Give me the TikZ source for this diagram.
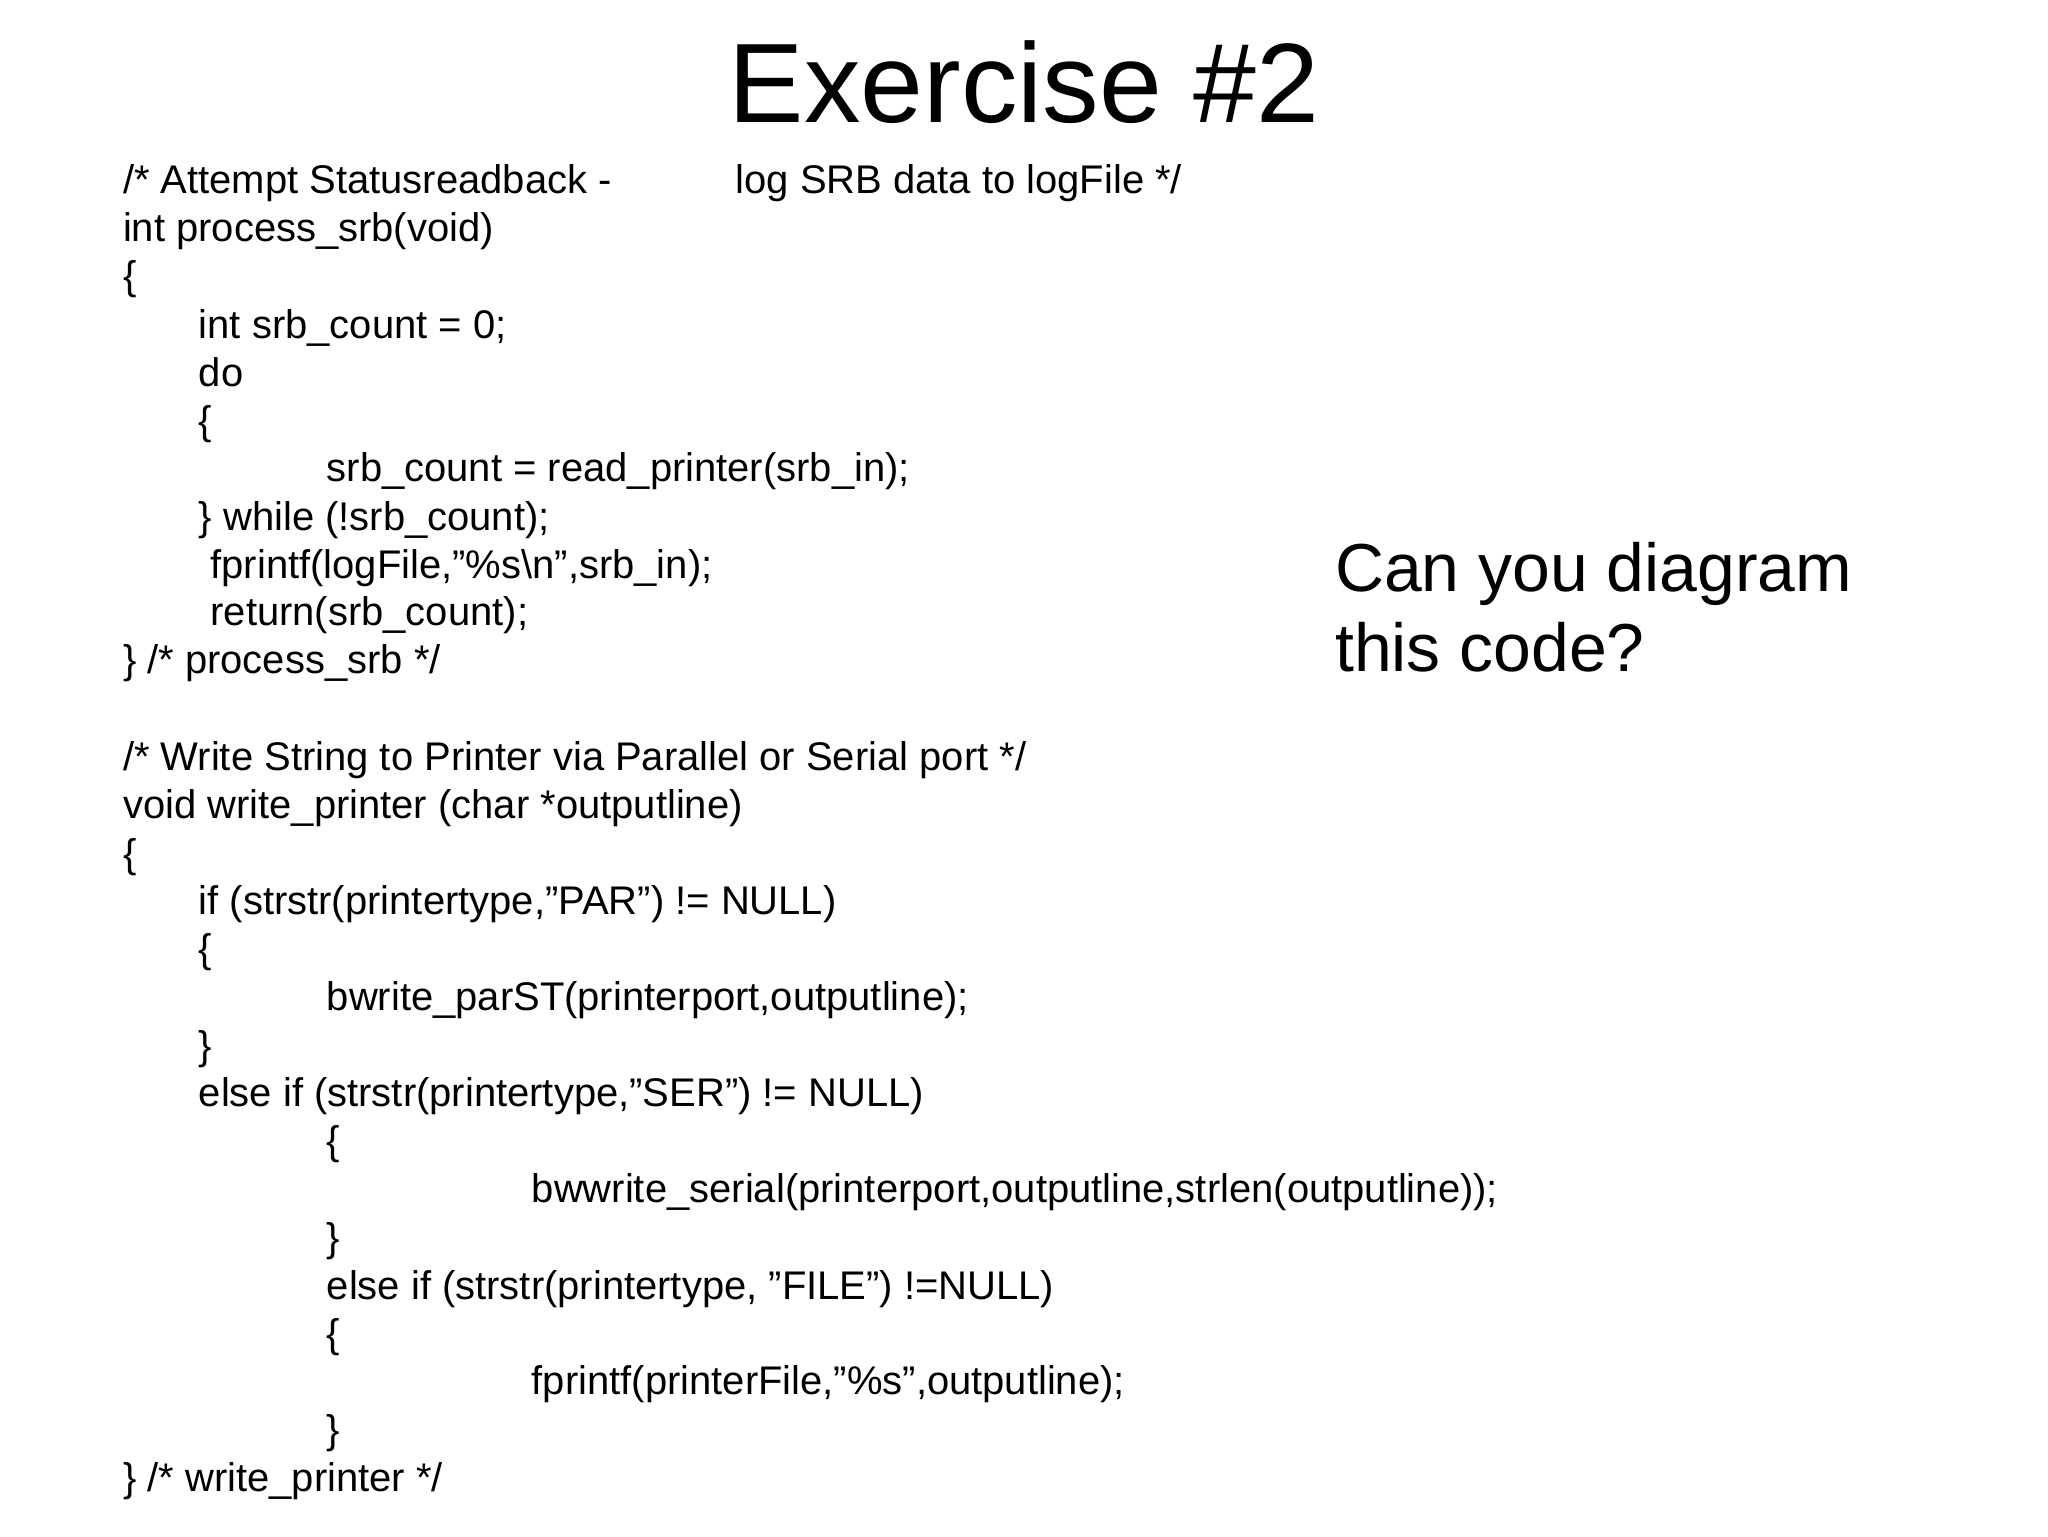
\documentclass[tikz,border=0pt]{standalone}
\usepackage{fontspec}
\setmainfont{Liberation Sans}
\begin{document}
\begin{tikzpicture}[x=1pt,y=-1pt,
  code/.style={anchor=base west,inner sep=0pt,font=\fontsize{30.6}{37}\selectfont}]
\useasboundingbox[fill=white] (0,0) rectangle (1568,1176);
\node[inner sep=0pt,font=\fontsize{86.5}{90}\selectfont] (title) at (784,63) {Exercise \#2};
\node[code] (l1) at (94,148) {/* Attempt Statusreadback -};
\node[code] (l1b) at (563,148) {log SRB data to logFile */};
\node[code] (l2) at (94,185) {int process\_srb(void)};
\node[code] (l3) at (94,222) {\{};
\node[code] (l4) at (152,259) {int srb\_count = 0;};
\node[code] (l5) at (152,296) {do};
\node[code] (l6) at (152,333) {\{};
\node[code] (l7) at (250,369) {srb\_count = read\_printer(srb\_in);};
\node[code] (l8) at (152,406) {\} while (!srb\_count);};
\node[code] (l9) at (161,443) {fprintf(logFile,"\%s\textbackslash n",srb\_in);};
\node[code] (l10) at (161,479) {return(srb\_count);};
\node[code] (l11) at (94,516) {\} /* process\_srb */};
\node[code] (l12) at (94,590) {/* Write String to Printer via Parallel or Serial port */};
\node[code] (l13) at (94,627) {void write\_printer (char *outputline)};
\node[code] (l14) at (94,664) {\{};
\node[code] (l15) at (152,700) {if (strstr(printertype,"PAR") != NULL)};
\node[code] (l16) at (152,737) {\{};
\node[code] (l17) at (250,774) {bwrite\_parST(printerport,outputline);};
\node[code] (l18) at (152,811) {\}};
\node[code] (l19) at (152,847) {else if (strstr(printertype,"SER") != NULL)};
\node[code] (l20) at (250,884) {\{};
\node[code] (l21) at (407,921) {bwwrite\_serial(printerport,outputline,strlen(outputline));};
\node[code] (l22) at (250,958) {\}};
\node[code] (l23) at (250,995) {else if (strstr(printertype, "FILE") !=NULL)};
\node[code] (l24) at (250,1032) {\{};
\node[code] (l25) at (407,1068) {fprintf(printerFile,"\%s",outputline);};
\node[code] (l26) at (250,1105) {\}};
\node[code] (l27) at (94,1142) {\} /* write\_printer */};
\node[anchor=base west,inner sep=0pt,font=\fontsize{52}{60}\selectfont] (q1) at (1022,453) {Can you diagram};
\node[anchor=base west,inner sep=0pt,font=\fontsize{52}{60}\selectfont] (q2) at (1022,514) {this code?};
\end{tikzpicture}
\end{document}
